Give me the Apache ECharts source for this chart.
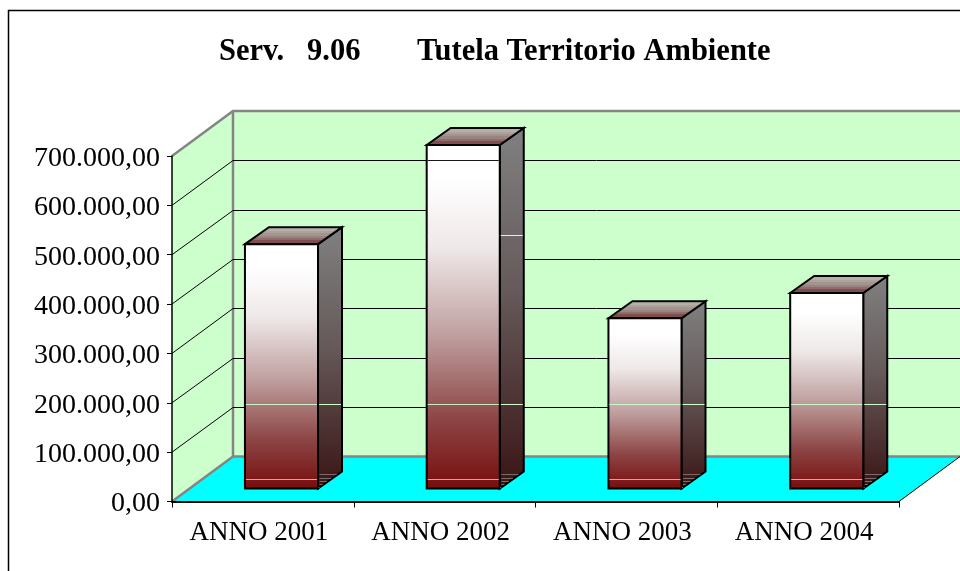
<!DOCTYPE html>
<html>
<head>
<meta charset="utf-8">
<title>Serv. 9.06</title>
<script src="https://cdn.jsdelivr.net/npm/echarts@6/dist/echarts.min.js"></script>
<style>
  html, body { margin: 0; padding: 0; background: #fff; }
  #main { width: 960px; height: 571px; }
</style>
</head>
<body>
<div id="main"></div>
<script>
var categories = ["ANNO 2001", "ANNO 2002", "ANNO 2003", "ANNO 2004"];
var values = [495000, 696000, 345000, 396000];
var tickValues = [0, 100000, 200000, 300000, 400000, 500000, 600000, 700000];
var tickLabels = ["0,00", "100.000,00", "200.000,00", "300.000,00", "400.000,00", "500.000,00", "600.000,00", "700.000,00"];
// stray scan lines that cross the bars in the original
var glintValues = [44600, 196800, 539700, 691800];
var glintColors = ["#66e6e6", "#ccffcc", "#ccffcc", "#000000"];

// pseudo 3d box of the plot
var depthX = 61, depthY = -45;
var barDepthX = 24, barDepthY = -17;
var barShiftX = 18.6, barShiftY = -13;

// bands of the top face, back to front
var topBands = ["#bcbcb0", "#b4b0a6", "#aca49c", "#a49490", "#9a8480", "#8e6e6c", "#804e4e", "#703030"];
// short scan lines low on the side face
var sideLines = [3, 7, 10, 13, 16];

var font = "Liberation Serif";
var titleStyle = { fontFamily: font, fontSize: 30.5, fontWeight: "bold", color: "#000" };

function pts(list) {
  return { points: list };
}

function crisp(y) {
  return Math.round(y) + 0.5;
}

function bandStops() {
  var stops = [];
  topBands.forEach(function (c, i) {
    stops.push({ offset: i / topBands.length, color: c });
    stops.push({ offset: (i + 1) / topBands.length, color: c });
  });
  return stops;
}

var chart = echarts.init(document.getElementById("main"), null, { renderer: "canvas" });

function renderBox(params, api) {
  var o = api.coord([0, 0]);
  var size = api.size([1, 700000]);
  var left = o[0] - size[0] / 2;
  var right = left + size[0] * categories.length;
  var bottom = o[1];
  var top = bottom - size[1];
  var bx = left + depthX, by = bottom + depthY, ty = top + depthY;
  var wallEdge = { stroke: "#858585", lineWidth: 2.5, fill: null };
  return {
    type: "group",
    children: [
      { type: "polygon", shape: pts([[bx, ty], [right + depthX, ty], [right + depthX, by], [bx, by]]), style: { fill: "#ccffcc" } },
      { type: "polygon", shape: pts([[left, top], [bx, ty], [bx, by], [left, bottom]]), style: { fill: "#ccffcc" } },
      { type: "polygon", shape: pts([[left, bottom], [right, bottom], [right + depthX, by], [bx, by]]), style: { fill: "#00ffff" } },
      { type: "polyline", shape: pts([[left, top], [bx, ty], [right + depthX, ty]]), style: wallEdge },
      { type: "polyline", shape: pts([[left, bottom], [bx, by], [right + depthX, by]]), style: wallEdge },
      { type: "line", shape: { x1: bx, y1: ty, x2: bx, y2: by }, style: wallEdge },
      { type: "line", shape: { x1: right, y1: bottom, x2: right + depthX, y2: by }, style: { stroke: "#000", lineWidth: 1 } }
    ]
  };
}

function renderGrid(params, api) {
  var o = api.coord([0, api.value(0)]);
  var w = api.size([1, 0])[0];
  var left = o[0] - w / 2;
  var right = left + w * categories.length;
  var y = crisp(o[1] + depthY);
  return {
    type: "polyline",
    shape: pts([[left, o[1]], [left + depthX, y], [right + depthX, y]]),
    style: { stroke: "#000", lineWidth: 1, fill: null }
  };
}

function renderBar(params, api) {
  var i = api.value(0);
  var top = api.coord([i, api.value(1)]);
  var base = api.coord([i, 0]);
  var w = api.size([1, 0])[0] * 0.402;
  var x0 = base[0] + barShiftX - w / 2, x1 = x0 + w;
  var y0 = top[1] + barShiftY, y1 = base[1] + barShiftY;
  var edge = { stroke: "#000", lineWidth: 2, lineJoin: "miter" };
  var children = [
    {
      type: "polygon",
      shape: pts([[x1, y0], [x1 + barDepthX, y0 + barDepthY], [x1 + barDepthX, y1 + barDepthY], [x1, y1]]),
      style: Object.assign({
        fill: { type: "linear", x: 0, y: 0, x2: 0, y2: 1, colorStops: [
          { offset: 0, color: "#808080" },
          { offset: 0.45, color: "#665a5a" },
          { offset: 1, color: "#3a1414" }
        ] }
      }, edge)
    },
    {
      type: "polygon",
      shape: pts([[x0, y0], [x0 + barDepthX, y0 + barDepthY], [x1 + barDepthX, y0 + barDepthY], [x1, y0]]),
      style: Object.assign({
        fill: { type: "linear", x: 0, y: 0, x2: 0, y2: 1, colorStops: bandStops() }
      }, edge)
    },
    {
      type: "rect",
      shape: { x: x0, y: y0, width: w, height: y1 - y0 },
      style: Object.assign({
        fill: { type: "linear", x: 0, y: 0, x2: 0, y2: 1, colorStops: [
          { offset: 0, color: "#ffffff" },
          { offset: 0.1, color: "#ffffff" },
          { offset: 0.3, color: "#efe8e8" },
          { offset: 0.55, color: "#c0a0a0" },
          { offset: 0.8, color: "#8c4444" },
          { offset: 1, color: "#780c0c" }
        ] }
      }, edge)
    }
  ];
  sideLines.forEach(function (d) {
    var y = crisp(y1 + barDepthY + d - 1);
    var reach = (y1 - y) / -barDepthY * barDepthX;
    children.push({ type: "line", shape: { x1: x1 + 1.5, y1: y, x2: x1 + reach - 1, y2: y }, style: { stroke: "#7a6a6a", lineWidth: 1 } });
  });
  glintValues.forEach(function (v, k) {
    if (v >= api.value(1)) return;
    var y = crisp(api.coord([i, v])[1]);
    var c = glintColors[k];
    children.push({ type: "line", shape: { x1: x0 + 1, y1: y, x2: x1 - 1, y2: y }, style: { stroke: c, lineWidth: 1, opacity: k === 2 ? 0.4 : 0.9 } });
    if (k === 1 || k === 2) {
      children.push({ type: "line", shape: { x1: x1 + 1, y1: y, x2: x1 + barDepthX - 1, y2: y }, style: { stroke: c, lineWidth: 1 } });
    }
  });
  return { type: "group", children: children };
}

var option = {
  animation: false,
  backgroundColor: "#fff",
  title: [
    { text: "Serv.   9.06", left: 214, top: 32, textStyle: titleStyle },
    { text: "Tutela Territorio Ambiente", left: 412, top: 32, textStyle: titleStyle }
  ],
  graphic: [
    { type: "polyline", z: 10, shape: { points: [[8.5, 571], [8.5, 10.5], [960, 10.5]] }, style: { stroke: "#000", lineWidth: 1.5, fill: null } }
  ],
  grid: { left: 172, right: 61, top: 156, bottom: 69.5 },
  xAxis: {
    type: "category",
    data: categories,
    z: 5,
    axisLine: { lineStyle: { color: "#000", width: 2 } },
    axisTick: { show: true, alignWithLabel: false, length: 6, lineStyle: { color: "#000", width: 1 } },
    axisLabel: { fontFamily: font, fontSize: 27, color: "#000", margin: 18, interval: 0, padding: [0, 8, 0, 0] },
    splitLine: { show: false }
  },
  yAxis: {
    type: "value",
    min: 0,
    max: 700000,
    interval: 100000,
    z: 5,
    axisLine: { show: true, lineStyle: { color: "#000", width: 1.5 } },
    axisTick: { show: true, length: 5, lineStyle: { color: "#000" } },
    axisLabel: {
      margin: 12,
      formatter: function (v) { return "{t|" + tickLabels[tickValues.indexOf(v)] + "}"; },
      rich: { t: { fontFamily: font, fontSize: 28, color: "#000", padding: [5, 0, 0, 0] } }
    },
    splitLine: { show: false }
  },
  series: [
    { type: "custom", name: "box", z: 1, silent: true, renderItem: renderBox, data: [[0]], encode: { x: 0 } },
    { type: "custom", name: "grid", z: 2, silent: true, renderItem: renderGrid, data: tickValues.slice(1, -1).map(function (v) { return [v]; }), encode: { y: 0 } },
    {
      type: "custom",
      name: "Tutela Territorio Ambiente",
      z: 3,
      renderItem: renderBar,
      data: values.map(function (v, i) { return [i, v]; }),
      encode: { x: 0, y: 1 }
    }
  ]
};

chart.setOption(option);
</script>
</body>
</html>
